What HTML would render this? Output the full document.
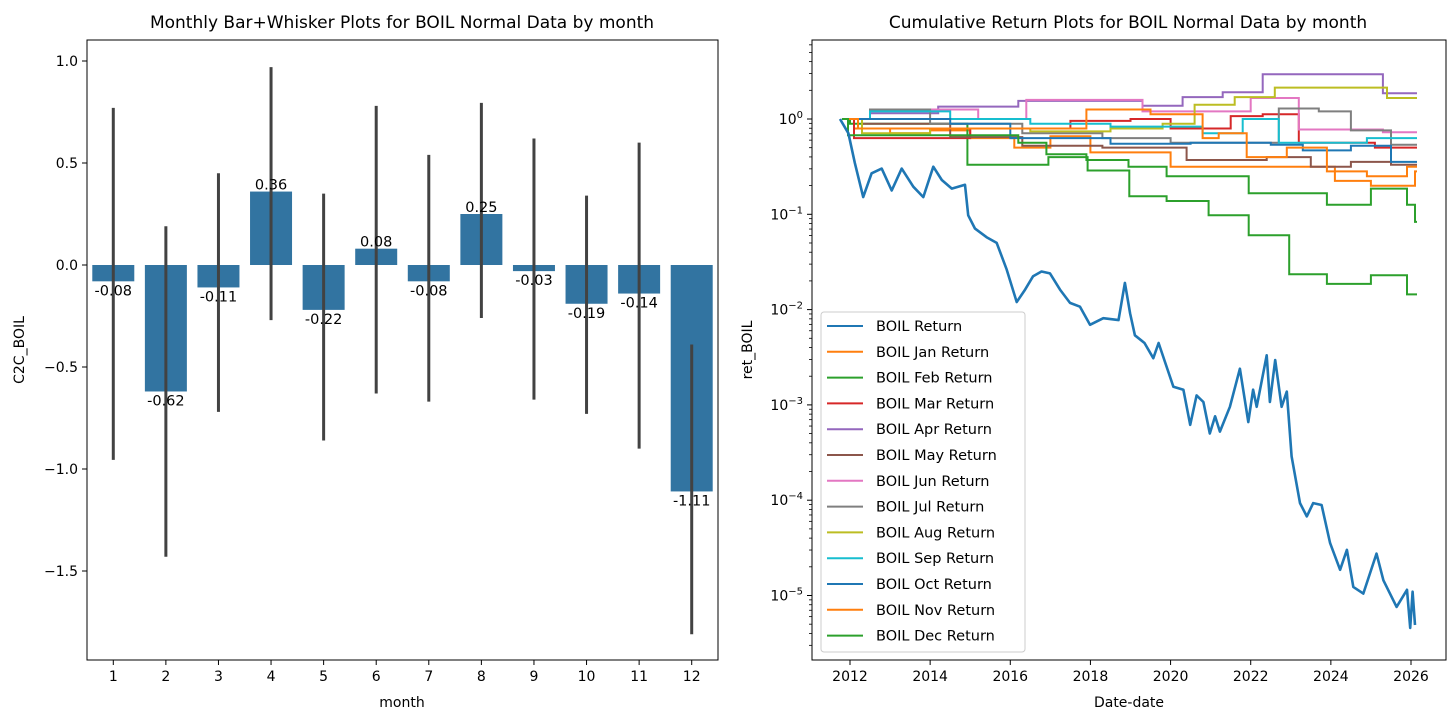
<!DOCTYPE html>
<html><head><meta charset="utf-8"><style>
html,body{margin:0;padding:0;background:#fff;}
svg{display:block;font-family:"DejaVu Sans","Liberation Sans",sans-serif;}
</style></head><body>
<svg id="root" width="1456" height="723" viewBox="0 0 1456 723"></svg>
<script>
// ---------- Left chart data ----------
const months = [1,2,3,4,5,6,7,8,9,10,11,12];
const meanValues = [-0.08,-0.62,-0.11,0.36,-0.22,0.08,-0.08,0.25,-0.03,-0.19,-0.14,-1.11];
const ciHigh = [0.77,0.19,0.45,0.97,0.35,0.78,0.54,0.795,0.62,0.34,0.60,-0.39];
const ciLow = [-0.955,-1.43,-0.72,-0.27,-0.86,-0.63,-0.67,-0.26,-0.66,-0.73,-0.90,-1.81];
const leftYTicks = [1.0,-0.5,0.0,0.5,-1.0,-1.5];
const leftYTickLabels = ["1.0","\u22120.5","0.0","0.5","\u22121.0","\u22121.5"];

// ---------- Right chart data ----------
const yearTicks = [2012,2014,2016,2018,2020,2022,2024,2026];
const logTicks = [0,-1,-2,-3,-4,-5];
const boilYears = [2011.75,2011.96,2012.12,2012.33,2012.54,2012.79,2013.04,2013.29,2013.58,2013.83,2014.08,2014.29,2014.54,2014.87,2014.95,2015.12,2015.41,2015.66,2015.91,2016.16,2016.37,2016.57,2016.78,2016.99,2017.24,2017.49,2017.74,2017.99,2018.32,2018.70,2018.86,2018.99,2019.11,2019.35,2019.57,2019.70,2019.86,2020.07,2020.32,2020.49,2020.65,2020.82,2020.98,2021.11,2021.23,2021.48,2021.73,2021.94,2022.06,2022.15,2022.40,2022.48,2022.61,2022.77,2022.90,2023.02,2023.23,2023.40,2023.56,2023.77,2023.98,2024.23,2024.40,2024.56,2024.81,2025.14,2025.31,2025.64,2025.90,2025.98,2026.04,2026.10];
const boilLog = [0,-0.15,-0.46,-0.82,-0.57,-0.52,-0.75,-0.52,-0.71,-0.82,-0.50,-0.64,-0.73,-0.69,-1.01,-1.15,-1.24,-1.30,-1.58,-1.92,-1.79,-1.65,-1.60,-1.62,-1.79,-1.93,-1.97,-2.16,-2.09,-2.11,-1.72,-2.04,-2.27,-2.35,-2.51,-2.35,-2.55,-2.81,-2.84,-3.21,-2.90,-2.97,-3.30,-3.12,-3.28,-3.02,-2.62,-3.18,-2.84,-3.02,-2.48,-2.97,-2.53,-3.02,-2.86,-3.54,-4.03,-4.17,-4.03,-4.05,-4.45,-4.73,-4.52,-4.91,-4.98,-4.56,-4.84,-5.12,-4.94,-5.34,-4.96,-5.31];
// step series: [year of change, log10 level]
const janSteps = [[2011.8,0],[2012.1,-0.1],[2013,-0.15],[2014,-0.12],[2015,-0.2],[2016.1,-0.3],[2017,-0.18],[2018,-0.35],[2020,-0.5],[2024.1,-0.65],[2025,-0.7],[2026.1,-0.55]];
const febSteps = [[2011.8,0],[2012,-0.05],[2014.93,-0.48],[2016.95,-0.40],[2017.93,-0.54],[2018.97,-0.81],[2019.9,-0.86],[2020.95,-1.01],[2021.95,-1.22],[2022.96,-1.63],[2023.9,-1.73],[2025,-1.64],[2025.9,-1.84]];
const marSteps = [[2011.8,0],[2012.1,-0.2],[2015,-0.1],[2017.5,-0.02],[2019,0.0],[2020,-0.1],[2021.5,0.03],[2022.3,0.05],[2023.2,-0.25],[2025.1,-0.3]];
const aprSteps = [[2011.8,0],[2012.5,0.06],[2014.2,0.13],[2016.2,0.19],[2019.3,0.14],[2020.3,0.23],[2021.3,0.28],[2022.3,0.47],[2025.3,0.27]];
const maySteps = [[2011.8,0],[2012.3,-0.05],[2014.5,-0.19],[2016.3,-0.28],[2018.3,-0.3],[2020.4,-0.43],[2022.4,-0.4],[2023.5,-0.5],[2024.5,-0.45],[2025.5,-0.48]];
const junSteps = [[2011.8,0],[2012.5,0.1],[2015.2,0.0],[2016.4,0.2],[2019.3,0.08],[2022,0.22],[2023.2,-0.11],[2025.3,-0.14]];
const julSteps = [[2011.8,0],[2012.5,0.1],[2014,-0.05],[2016.3,-0.15],[2018.3,-0.2],[2020,-0.25],[2022.7,0.11],[2023.7,0.08],[2024.5,-0.12],[2025.5,-0.27]];
const augSteps = [[2011.8,0],[2012.3,-0.15],[2014,-0.1],[2016.5,-0.13],[2018.5,-0.1],[2019.8,-0.05],[2020.6,0.15],[2021.6,0.23],[2022.6,0.33],[2025.4,0.22]];
const sepSteps = [[2011.8,0],[2012.5,0.08],[2014.5,0.0],[2016.5,-0.05],[2018.5,-0.08],[2020.8,-0.15],[2021.8,0.0],[2022.7,-0.25],[2024.9,-0.2]];
const octSteps = [[2011.8,0],[2014.5,-0.05],[2016,-0.2],[2018.5,-0.26],[2020.5,-0.25],[2022.5,-0.27],[2023.3,-0.33],[2024.5,-0.28],[2025.5,-0.45]];
const novSteps = [[2011.8,0],[2012.2,-0.1],[2017.9,0.1],[2019.5,0.05],[2020.8,-0.2],[2021.2,-0.15],[2021.9,-0.4],[2022.9,-0.3],[2023.9,-0.55],[2024.9,-0.6],[2025.9,-0.5]];
const decSteps = [[2011.8,0],[2011.95,-0.17],[2016.2,-0.25],[2016.9,-0.37],[2017.9,-0.43],[2018.95,-0.5],[2019.9,-0.6],[2020.95,-0.6],[2021.95,-0.78],[2023.9,-0.9],[2025,-0.73],[2025.9,-0.9],[2026.1,-1.08]];
const legendLabels = ["BOIL Return","BOIL Jan Return","BOIL Feb Return","BOIL Mar Return","BOIL Apr Return","BOIL May Return","BOIL Jun Return","BOIL Jul Return","BOIL Aug Return","BOIL Sep Return","BOIL Oct Return","BOIL Nov Return","BOIL Dec Return"];
const colors = ["#1f77b4","#ff7f0e","#2ca02c","#d62728","#9467bd","#8c564b","#e377c2","#7f7f7f","#bcbd22","#17becf","#1f77b4","#ff7f0e","#2ca02c"];

const NS="http://www.w3.org/2000/svg";
const root=document.getElementById('root');
function mk(tag,attrs,parent,text){const e=document.createElementNS(NS,tag);for(const k in attrs)e.setAttribute(k,attrs[k]);if(text!==undefined)e.textContent=text;(parent||root).appendChild(e);return e;}

// ===== Left chart =====
const L={x0:87,x1:718,y0:40,y1:660};
const lx=i=>L.x0+(i+0.5)*(L.x1-L.x0)/12;
const ly=v=>265-v*204;
const lg=mk('g',{});


const lt=mk('text',{x:402,y:28,'text-anchor':'middle','font-size':17},lg,'Monthly Bar+Whisker Plots for BOIL Normal Data by month');

months.forEach((m,i)=>{
  const v=meanValues[i];const y0=ly(0),y1=ly(v);
  const b=mk('rect',{x:lx(i)-21,y:Math.min(y0,y1),width:42,height:Math.abs(y1-y0),fill:'#3274a1'},lg);
  
  const w=mk('line',{x1:lx(i),x2:lx(i),y1:ly(ciHigh[i]),y2:ly(ciLow[i]),stroke:'#424242','stroke-width':3},lg);
  
  const ty=v>=0?y1-2:y1+14;
  const t=mk('text',{x:lx(i),y:ty,'text-anchor':'middle','font-size':14.5},lg,v.toFixed(2));
  
  mk('line',{x1:lx(i),x2:lx(i),y1:L.y1,y2:L.y1+5,stroke:'#000'},lg);
  const xl=mk('text',{x:lx(i),y:L.y1+21,'text-anchor':'middle','font-size':14},lg,String(m));
  
});
leftYTicks.forEach((v,i)=>{
  mk('line',{x1:L.x0-5,x2:L.x0,y1:ly(v),y2:ly(v),stroke:'#000'},lg);
  const t=mk('text',{x:L.x0-9,y:ly(v)+5,'text-anchor':'end','font-size':14},lg,leftYTickLabels[i]);
  
});
mk('rect',{x:L.x0,y:L.y0,width:L.x1-L.x0,height:L.y1-L.y0,fill:'none',stroke:'#000','stroke-width':1},lg);
const lxl=mk('text',{x:402,y:707,'text-anchor':'middle','font-size':14},lg,'month');

const lyl=mk('text',{x:0,y:0,'text-anchor':'middle','font-size':14,transform:'translate(24,350) rotate(-90)'},lg,'C2C_BOIL');


// ===== Right chart =====
const R={x0:812,x1:1446,y0:40,y1:660};
const rx=yr=>850+(yr-2012)*(1411-850)/14;
const ry=l=>119-l*95.3;
const rg=mk('g',{});


const rt=mk('text',{x:1128,y:28,'text-anchor':'middle','font-size':17},rg,'Cumulative Return Plots for BOIL Normal Data by month');

const clip=mk('clipPath',{id:'rc'},rg);mk('rect',{x:R.x0,y:R.y0,width:R.x1-R.x0,height:R.y1-R.y0},clip);
const plot=mk('g',{'clip-path':'url(#rc)'},rg);
const stepSeries=[janSteps,febSteps,marSteps,aprSteps,maySteps,junSteps,julSteps,augSteps,sepSteps,octSteps,novSteps,decSteps];
const endYear=2026.15;
stepSeries.forEach((s,k)=>{
  let d='';
  s.forEach((p,j)=>{
    const next=j<s.length-1?s[j+1][0]:endYear;
    d+=(j===0?'M':'L')+rx(p[0]).toFixed(1)+','+ry(p[1]).toFixed(1)+'L'+rx(next).toFixed(1)+','+ry(p[1]).toFixed(1);
  });
  const p=mk('path',{d:d,fill:'none',stroke:colors[k+1],'stroke-width':2},plot);
  
  
});
let bd='';
boilYears.forEach((yr,i)=>{bd+=(i?'L':'M')+rx(yr).toFixed(1)+','+ry(boilLog[i]).toFixed(1);});
const bp=mk('path',{d:bd,fill:'none',stroke:colors[0],'stroke-width':2.6,'stroke-linejoin':'round'},plot);


yearTicks.forEach(yr=>{
  mk('line',{x1:rx(yr),x2:rx(yr),y1:R.y1,y2:R.y1+5,stroke:'#000'},rg);
  const t=mk('text',{x:rx(yr),y:R.y1+21,'text-anchor':'middle','font-size':14},rg,String(yr));
  
});
for(let dcd=1;dcd>=-6;dcd--){for(let m=2;m<=9;m++){const l=dcd+Math.log10(m);const y=ry(l);if(y>R.y0&&y<R.y1)mk('line',{x1:R.x0-3,x2:R.x0,y1:y,y2:y,stroke:'#000','stroke-width':0.8},rg);}}
logTicks.forEach(l=>{
  mk('line',{x1:R.x0-5,x2:R.x0,y1:ry(l),y2:ry(l),stroke:'#000'},rg);
  const t=mk('text',{x:R.x0-9,y:ry(l)+5,'text-anchor':'end','font-size':14},rg);
  
  t.appendChild(document.createTextNode('10'));
  mk('tspan',{dy:-6,'font-size':10},t,l===0?'0':'\u2212'+(-l));
});
mk('rect',{x:R.x0,y:R.y0,width:R.x1-R.x0,height:R.y1-R.y0,fill:'none',stroke:'#000','stroke-width':1},rg);
const rxl=mk('text',{x:1129,y:707,'text-anchor':'middle','font-size':14},rg,'Date-date');

const ryl=mk('text',{x:0,y:0,'text-anchor':'middle','font-size':14,transform:'translate(752,350) rotate(-90)'},rg,'ret_BOIL');


// legend
const leg=mk('g',{},rg);

mk('rect',{x:821,y:312,width:204,height:340,rx:3,fill:'#fff','fill-opacity':0.85,stroke:'#ccc'},leg);
legendLabels.forEach((lab,i)=>{
  const y=326+i*25.8;
  const e=mk('g',{},leg);
  
  mk('line',{x1:827,x2:863,y1:y,y2:y,stroke:colors[i],'stroke-width':2},e);
  mk('text',{x:876,y:y+5,'font-size':14.5},e,lab);
});
</script>
</body></html>
